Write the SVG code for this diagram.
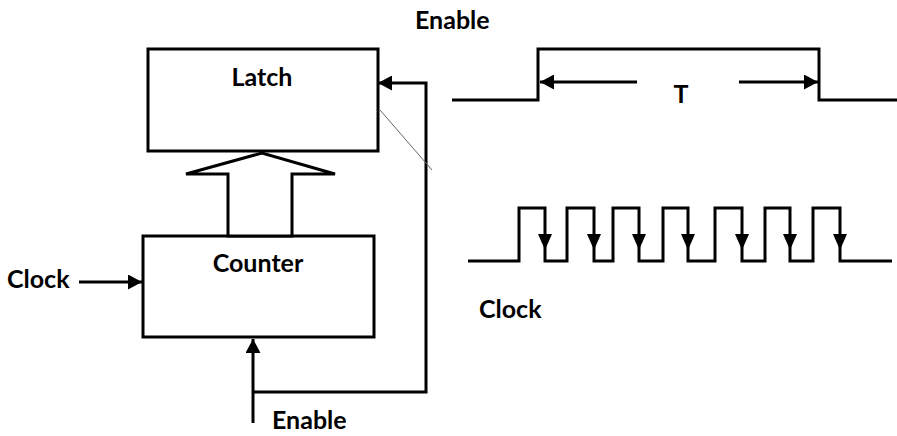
<svg xmlns="http://www.w3.org/2000/svg" width="897" height="436" viewBox="0 0 897 436">
  <style>
    .lbl { font-family: Lato, "Liberation Sans", sans-serif; font-weight: bold; font-size: 25px; fill: #000; }
    .box { fill: #fff; stroke: #000; stroke-width: 3; }
    .wire { fill: none; stroke: #000; stroke-width: 3; stroke-linejoin: miter; }
    .head { fill: #000; stroke: none; }
  </style>
  <defs>
    <marker id="arrow" markerUnits="userSpaceOnUse" markerWidth="15" markerHeight="15" refX="14" refY="7.5" orient="auto">
      <path d="M0,0 L14,7.5 L0,15 z" fill="#000"/>
    </marker>
    <path id="down" d="M-7,0 L7,0 L0,16 z"/>
  </defs>
  <rect width="897" height="436" fill="#fff"/>

  <g id="latch">
    <rect class="box" x="148" y="49" width="230" height="102"/>
    <text class="lbl" x="262" y="86" text-anchor="middle">Latch</text>
  </g>

  <g id="counter">
    <rect class="box" x="143" y="236" width="231" height="101"/>
    <text class="lbl" x="258" y="272" text-anchor="middle">Counter</text>
  </g>

  <g id="bus-arrow">
    <path class="box" d="M262,153 L186,174 L228,174 L228,236 L292,236 L292,174 L335,174 Z"/>
  </g>

  <g id="connectors">
    <line class="wire" x1="79" y1="282" x2="142" y2="282" marker-end="url(#arrow)"/>
    <line class="wire" x1="253" y1="423" x2="253" y2="339" marker-end="url(#arrow)"/>
    <path class="wire" d="M253,392 L426,392 L426,83 L378,83" marker-end="url(#arrow)"/>
    <line x1="380" y1="110" x2="432" y2="170" stroke="#666" stroke-width="1"/>
  </g>

  <g id="labels">
    <text class="lbl" x="7" y="288">Clock</text>
    <text class="lbl" x="272" y="429">Enable</text>
    <text class="lbl" x="415" y="29">Enable</text>
    <text class="lbl" x="479" y="318">Clock</text>
  </g>

  <g id="enable-wave">
    <path class="wire" d="M452,100 L538,100 L538,49 L819,49 L819,100 L897,100"/>
    <line class="wire" x1="637" y1="82" x2="540" y2="82" marker-end="url(#arrow)"/>
    <line class="wire" x1="739" y1="82" x2="818" y2="82" marker-end="url(#arrow)"/>
    <text class="lbl" x="681" y="103" text-anchor="middle">T</text>
  </g>

  <g id="clock-wave">
    <path class="wire" d="M468,261 L519,261 L519,208 L545,208 L545,261 L567,261 L567,208 L594,208 L594,261 L613,261 L613,208 L639,208 L639,261 L663,261 L663,208 L688,208 L688,261 L715,261 L715,208 L742,208 L742,261 L765,261 L765,208 L790,208 L790,261 L813,261 L813,208 L840,208 L840,261 L892,261"/>
    <g class="head">
      <use href="#down" x="545" y="234"/>
      <use href="#down" x="594" y="234"/>
      <use href="#down" x="639" y="234"/>
      <use href="#down" x="688" y="234"/>
      <use href="#down" x="742" y="234"/>
      <use href="#down" x="790" y="234"/>
      <use href="#down" x="840" y="234"/>
    </g>
  </g>
</svg>
